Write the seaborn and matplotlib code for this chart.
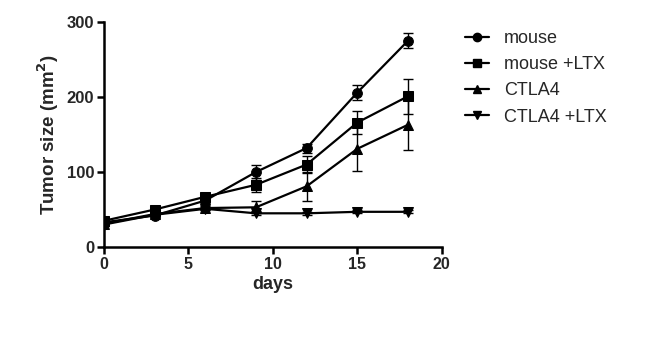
import matplotlib
matplotlib.use("Agg")
import matplotlib.pyplot as plt
import seaborn as sns
import pandas as pd
import numpy as np
from matplotlib.lines import Line2D

days = [0, 3, 6, 9, 12, 15, 18]
groups = ["mouse", "mouse +LTX", "CTLA4", "CTLA4 +LTX"]
mouse = [33, 42, 62, 100, 132, 206, 275]
mouse_err = [3, 3, 3, 10, 6, 10, 10]
mouse_ltx = [35, 50, 67, 83, 110, 166, 201]
mouse_ltx_err = [3, 3, 3, 9, 11, 15, 23]
ctla4 = [31, 44, 52, 53, 81, 131, 163]
ctla4_err = [3, 3, 3, 8, 19, 30, 33]
ctla4_ltx = [30, 43, 51, 45, 45, 47, 47]
ctla4_ltx_err = [2, 2, 2, 2, 2, 2, 2]

values = [mouse, mouse_ltx, ctla4, ctla4_ltx]
errors = [mouse_err, mouse_ltx_err, ctla4_err, ctla4_ltx_err]
markers = {"mouse": "o", "mouse +LTX": "s", "CTLA4": "^", "CTLA4 +LTX": "v"}

df = pd.DataFrame({
    "days": days * 4,
    "size": sum(values, []),
    "err": sum(errors, []),
    "group": sum([[g] * len(days) for g in groups], []),
})

sns.set_style("ticks")
plt.rcParams["font.family"] = ["Liberation Sans", "DejaVu Sans"]

fig = plt.figure(figsize=(6.45, 3.38), dpi=100)
ax = fig.add_axes([0.161, 0.269, 0.524, 0.666])

for g in groups:
    sub = df[df.group == g]
    ax.errorbar(sub["days"], sub["size"], yerr=sub["err"], fmt="none",
                ecolor="black", elinewidth=1.0, capsize=3.5, capthick=1.0, zorder=2)

sns.lineplot(data=df, x="days", y="size", hue="group", style="group",
             palette=["black"] * 4, markers=markers, dashes=False,
             markersize=7, markeredgecolor="black", linewidth=1.6,
             ax=ax, legend=False, zorder=3)

ax.set_xlim(0, 20)
ax.set_ylim(0, 300)
ax.set_xticks([0, 5, 10, 15, 20])
ax.set_yticks([0, 100, 200, 300])
for s in ["top", "right"]:
    ax.spines[s].set_visible(False)
for s in ["left", "bottom"]:
    ax.spines[s].set_linewidth(1.8)
    ax.spines[s].set_color("black")
ax.tick_params(axis="both", width=1.8, length=5, color="black", pad=2)
ax.tick_params(axis="x", labelsize=11.5)
ax.tick_params(axis="y", labelsize=12)
for lab in ax.get_xticklabels() + ax.get_yticklabels():
    lab.set_fontweight("bold")
ax.set_xlabel("days", fontsize=13, fontweight="bold", labelpad=3)
ax.set_ylabel("Tumor size (mm$^\\mathbf{2}$)", fontsize=13.5, fontweight="bold", labelpad=4)

handles = [Line2D([0], [0], color="black", marker=markers[g], markersize=6,
                  linewidth=1.6) for g in groups]
fig.legend(handles, groups, loc="upper left", bbox_to_anchor=(0.721, 0.91),
           frameon=False, fontsize=13, handlelength=1.3, labelspacing=0.5,
           handletextpad=0.85, borderpad=0, borderaxespad=0)

fig.savefig("out.png", dpi=100)
